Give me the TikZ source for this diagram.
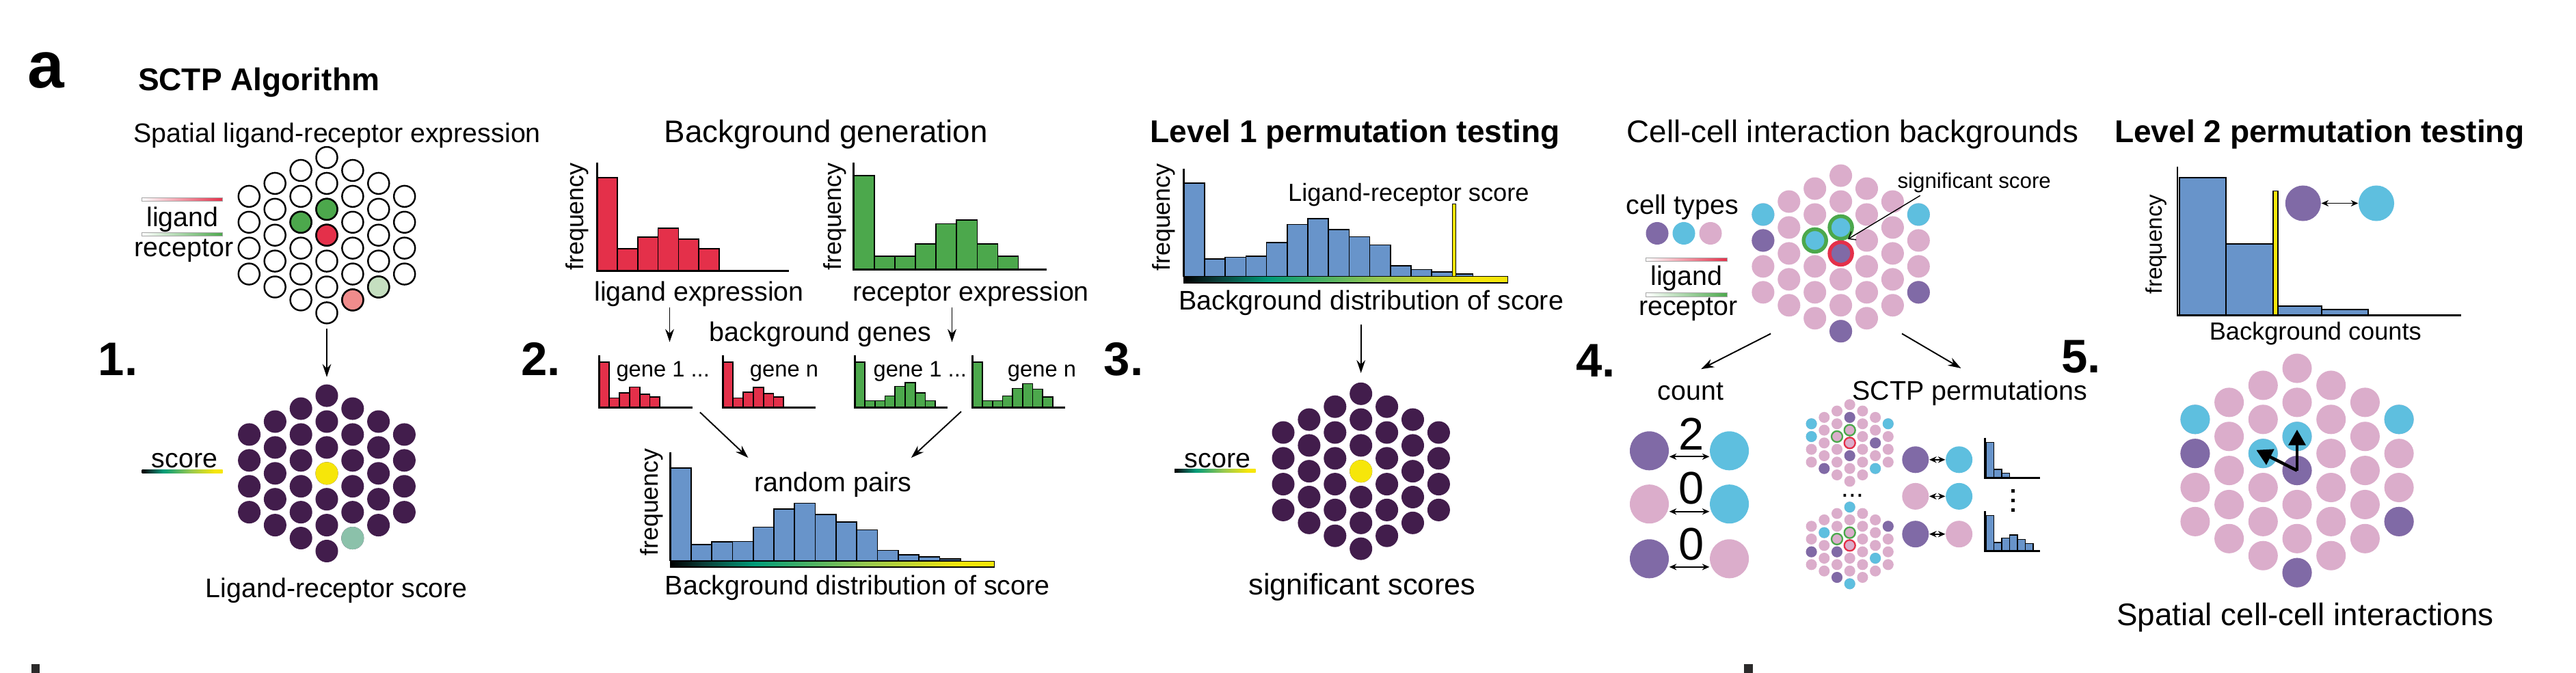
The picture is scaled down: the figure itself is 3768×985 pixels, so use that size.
\documentclass[tikz,border=0pt]{standalone}
\usepackage{fontspec}
\setmainfont{Liberation Sans}
\usetikzlibrary{calc,positioning,arrows.meta}

\definecolor{LigRed}{RGB}{228,48,74}
\definecolor{RecGreen}{RGB}{76,168,76}
\definecolor{LigPale}{RGB}{240,140,140}
\definecolor{RecPale}{RGB}{197,223,192}
\definecolor{ScoreDark}{RGB}{66,29,76}
\definecolor{ScoreDeep}{RGB}{10,60,55}
\definecolor{ScoreTeal}{RGB}{0,155,120}
\definecolor{ScoreLime}{RGB}{150,200,80}
\definecolor{ScoreYellow}{RGB}{246,230,10}
\definecolor{ScoreMint}{RGB}{139,193,170}
\definecolor{HistBlue}{RGB}{104,148,202}
\definecolor{TypePurple}{RGB}{128,106,166}
\definecolor{TypeCyan}{RGB}{94,191,223}
\definecolor{TypePink}{RGB}{219,173,203}
\definecolor{MarkGray}{RGB}{43,42,42}
\pgfdeclarehorizontalshading{ScoreShade}{100bp}{color(0bp)=(black); color(25bp)=(black); color(30bp)=(ScoreDeep); color(38bp)=(ScoreTeal); color(55bp)=(ScoreLime); color(70bp)=(ScoreYellow); color(100bp)=(ScoreYellow)}

\begin{document}
\begin{tikzpicture}[
        x=0.01cm, y=-0.01cm,
        PanelTag/.style={font=\fontsize{27.4}{30}\selectfont\bfseries, inner sep=0, anchor=base},
        Head/.style={font=\fontsize{13.1}{15}\selectfont\bfseries, inner sep=0, anchor=base},
        Sub/.style={font=\fontsize{13}{15}\selectfont, inner sep=0, anchor=base},
        Lbl/.style={font=\fontsize{11.2}{13}\selectfont, inner sep=0, anchor=base},
        SmallLbl/.style={font=\fontsize{10.3}{12}\selectfont, inner sep=0, anchor=base},
        SigLbl/.style={font=\fontsize{12.3}{14}\selectfont, inner sep=0, anchor=base},
        TinyLbl/.style={font=\fontsize{8.9}{10}\selectfont, inner sep=0, anchor=base},
        GeneLbl/.style={font=\fontsize{9.3}{11}\selectfont, inner sep=0, anchor=base},
        FreqLbl/.style={font=\fontsize{10.2}{12}\selectfont, inner sep=0, rotate=90},
        StepNum/.style={font=\fontsize{19.6}{22}\selectfont\bfseries, inner sep=0, anchor=base west},
        CountNum/.style={font=\fontsize{19}{22}\selectfont, inner sep=0, anchor=base},
        CellOpen/.style={circle, draw=black, line width=0.7pt, fill=white, inner sep=0, minimum size=0.31cm},
        CellDot/.style={circle, inner sep=0, minimum size=0.33cm},
        TinyDot/.style={circle, inner sep=0, minimum size=0.16cm},
        BigDot/.style={circle, inner sep=0, minimum size=0.43cm},
        Bar/.style={draw=black, line width=0.5pt},
        Axis/.style={line width=0.8pt},
        LegendBar/.style={left color=white, draw=black!35, line width=0.25pt},
        FlowArrow/.style={line width=0.55pt, -{Stealth[length=5.4pt,width=3.6pt]}},
        PairArrow/.style={line width=0.5pt, {Stealth[length=3pt,width=2.6pt]}-{Stealth[length=3pt,width=2.6pt]}},
        PtrArrow/.style={line width=0.4pt, -{Straight Barb[length=2.5pt,width=4pt]}},
        BoldArrow/.style={line width=1.3pt, -{Triangle[length=6.5pt,width=7pt]}}
    ]
    \fill[white] (0,0) rectangle (3768,985);
    \useasboundingbox (0,0) rectangle (3768,985);

    %titles
    \node[PanelTag] (PanelA) at (67.5,128.8) {a};
    \node[Head] (AlgTitle) at (378.6,133) {SCTP Algorithm};
    \node[Lbl] (SpatialTitle) at (493.2,208.5) {Spatial ligand-receptor expression};
    \node[Sub] (BgTitle) at (1208.2,208.4) {Background generation};
    \node[Head] (Lvl1Title) at (1982.2,208.4) {Level 1 permutation testing};
    \node[Sub] (CciTitle) at (2710,208.4) {Cell-cell interaction backgrounds};
    \node[Head] (Lvl2Title) at (3392.7,208.4) {Level 2 permutation testing};

    %steps
    \node[StepNum] (Step1) at (143,549.3) {1.};
    \node[StepNum] (Step2) at (761.5,549.6) {2.};
    \node[StepNum] (Step3) at (1614,549) {3.};
    \node[StepNum] (Step4) at (2304.6,551.5) {4.};
    \node[StepNum] (Step5) at (3014.7,545.8) {5.};

    %1. spatial expression
    \shadedraw[LegendBar,right color=LigRed] (207.6,289.5) rectangle (325.7,294.5);
    \node[Lbl] (LigLeg1) at (267,331.7) {ligand};
    \shadedraw[LegendBar,right color=RecGreen] (207.6,340.5) rectangle (325.7,345.5);
    \node[Lbl] (RecLeg1) at (269,375.6) {receptor};
    \foreach \c in {1,...,7}{
        \pgfmathtruncatemacro{\nrow}{7-abs(\c-4)}
        \foreach \j in {1,...,\nrow}
            \node[CellOpen] (T-\c-\j) at ({478+(\c-4)*37.9},{344.2+(\j-(\nrow+1)/2)*37.9}) {};
    }
    \foreach \c/\j/\col in {3/3/RecGreen,4/3/RecGreen,4/4/LigRed,5/6/LigPale,6/5/RecPale}
        \node[CellOpen,fill=\col] (Tx-\c-\j) at (T-\c-\j) {};

    %1. score
    \node[Lbl] (ScoreLeg1) at (270,684.7) {score};
    \shade[shading=ScoreShade] (207.6,687.5) rectangle (325.7,692.5);
    \foreach \c in {1,...,7}{
        \pgfmathtruncatemacro{\nrow}{7-abs(\c-4)}
        \foreach \j in {1,...,\nrow}
            \node[CellDot,fill=ScoreDark] (B-\c-\j) at ({478+(\c-4)*37.8},{692.8+(\j-(\nrow+1)/2)*37.9}) {};
    }
    \foreach \c/\j/\col in {4/4/ScoreYellow,5/6/ScoreMint}
        \node[CellDot,fill=\col] (Bx-\c-\j) at (B-\c-\j) {};
    \node[Lbl] (LrScore1) at (492.4,874) {Ligand-receptor score};

    %2. background generation
    \foreach \h [count=\i from 0] in {136,32.5,49.4,62,46,32.5}
        \draw[Bar,fill=LigRed] ({873.2+\i*29.8},396.3) rectangle ++(29.8,-\h);
    \draw[Axis] (873.2,238.3) -- (873.2,396.3) -- (1154,396.3);
    \node[FreqLbl] (FreqLig) at (844.5,317) {frequency};
    \node[Lbl] (LigExpr) at (1022.6,440.3) {ligand expression};

    \foreach \h [count=\i from 0] in {137.7,19.8,19.8,37.8,67.2,72.8,37.8,19.8}
        \draw[Bar,fill=RecGreen] ({1248.8+\i*30.1},394.6) rectangle ++(30.1,-\h);
    \draw[Axis] (1248.8,238) -- (1248.8,394.6) -- (1530.7,394.6);
    \node[FreqLbl] (FreqRec) at (1221,317) {frequency};
    \node[Lbl] (RecExpr) at (1420,440.3) {receptor expression};

    \node[Lbl] (BgGenes) at (1200,499) {background genes};

    %gene histograms
    \foreach \h [count=\i from 0] in {66.6,14,21.4,30,19.8,15.8}
        \draw[Bar,fill=LigRed] ({876.5+\i*14.8},596.6) rectangle ++(14.8,-\h);
    \draw[Axis] (876.5,520.4) -- (876.5,596.6) -- (1013,596.6);
    \node[GeneLbl] (LigGene1) at (969.7,551.5) {gene 1 ...};
    \foreach \h [count=\i from 0] in {66.6,14,22.6,29.3,20.9,15.8}
        \draw[Bar,fill=LigRed] ({1057.5+\i*14.8},596.6) rectangle ++(14.8,-\h);
    \draw[Axis] (1057.5,520.4) -- (1057.5,596.6) -- (1193,596.6);
    \node[GeneLbl] (LigGeneN) at (1147,551.5) {gene n};
    \foreach \h [count=\i from 0] in {66.6,10.2,10.2,17,31,36.7,21.4,10.2}
        \draw[Bar,fill=RecGreen] ({1250.5+\i*14.7},596.6) rectangle ++(14.7,-\h);
    \draw[Axis] (1250.5,520.4) -- (1250.5,596.6) -- (1386,596.6);
    \node[GeneLbl] (RecGene1) at (1345.8,551.5) {gene 1 ...};
    \foreach \h [count=\i from 0] in {66.6,10.2,10.2,17,28.2,35,27,15.8}
        \draw[Bar,fill=RecGreen] ({1422.3+\i*14.7},596.6) rectangle ++(14.7,-\h);
    \draw[Axis] (1422.3,520.4) -- (1422.3,596.6) -- (1557.8,596.6);
    \node[GeneLbl] (RecGeneN) at (1524,551.5) {gene n};

    %random pairs
    \foreach \h [count=\i from 0] in {136,24.3,28.2,28.8,49.7,76.2,84.7,68.3,57,45.7,15.8,9,6.2,3.4}
        \draw[Bar,fill=HistBlue] ({980.5+\i*30.3},821.2) rectangle ++(30.3,-\h);
    \draw[Axis] (980.5,661.5) -- (980.5,821.2);
    \shadedraw[shading=ScoreShade,draw=black,line width=0.3pt] (980.5,821.2) rectangle (1454.8,830);
    \node[FreqLbl] (FreqBg) at (952.9,735) {frequency};
    \node[Lbl] (RandPairs) at (1218.7,719.6) {random pairs};
    \node[Lbl] (BgDist2) at (1254.2,870.3) {Background distribution of score};

    %3. level 1 testing
    \foreach \h [count=\i from 0] in {136.6,25.4,28.2,29.9,49.7,76.2,84.7,68.8,58.1,46.3,15.8,10.2,6.8,4}
        \draw[Bar,fill=HistBlue] ({1731.8+\i*30.2},404.7) rectangle ++(30.2,-\h);
    \draw[Axis] (1731.8,246.7) -- (1731.8,404.7);
    \shadedraw[shading=ScoreShade,draw=black,line width=0.3pt] (1731.8,404.7) rectangle (2205.9,414);
    \draw[Bar,fill=ScoreYellow,line width=0.4pt] (2124.6,404.7) rectangle (2129.4,298.6);
    \node[FreqLbl] (FreqL1) at (1702.5,318) {frequency};
    \node[SmallLbl] (LrScore3) at (2060.4,294.7) {Ligand-receptor score};
    \node[Lbl] (BgDist3) at (2005.7,453.8) {Background distribution of score};

    \node[Lbl] (ScoreLeg3) at (1781,684) {score};
    \shade[shading=ScoreShade] (1718,686) rectangle (1836.7,691);
    \foreach \c in {1,...,7}{
        \pgfmathtruncatemacro{\nrow}{7-abs(\c-4)}
        \foreach \j in {1,...,\nrow}
            \node[CellDot,fill=ScoreDark] (S-\c-\j) at ({1990.7+(\c-4)*37.9},{689.7+(\j-(\nrow+1)/2)*37.8}) {};
    }
    \node[CellDot,fill=ScoreYellow] (Sx-4-4) at (S-4-4) {};
    \node[SigLbl] (SigScores) at (1992.3,870.3) {significant scores};

    %4. cell-cell backgrounds
    \node[Lbl] (CellTypes) at (2460.7,313.3) {cell types};
    \node[CellDot,fill=TypePurple] (TypeA) at (2424,341.5) {};
    \node[CellDot,fill=TypeCyan] (TypeB) at (2463,341.5) {};
    \node[CellDot,fill=TypePink] (TypeC) at (2502,341.5) {};
    \shadedraw[LegendBar,right color=LigRed] (2407,377.2) rectangle (2526.4,382.8);
    \node[Lbl] (LigLeg4) at (2467,417.7) {ligand};
    \shadedraw[LegendBar,right color=RecGreen] (2407,428.5) rectangle (2526.4,434.1);
    \node[Lbl] (RecLeg4) at (2469.4,461.2) {receptor};

    \foreach \c in {1,...,7}{
        \pgfmathtruncatemacro{\nrow}{7-abs(\c-4)}
        \foreach \j in {1,...,\nrow}
            \node[CellDot,fill=TypePink] (G-\c-\j) at ({2692.6+(\c-4)*37.9},{370.9+(\j-(\nrow+1)/2)*37.95}) {};
    }
    \foreach \c/\j/\col in {1/1/TypeCyan,1/2/TypePurple,4/7/TypePurple,7/1/TypeCyan,7/4/TypePurple}
        \node[CellDot,fill=\col] (Gx-\c-\j) at (G-\c-\j) {};
    \foreach \c/\j/\col/\ring in {3/3/TypeCyan/RecGreen,4/3/TypeCyan/RecGreen,4/4/TypePurple/LigRed}
        \node[CellDot,fill=\col,draw=\ring,line width=1.55pt] (Gr-\c-\j) at (G-\c-\j) {};
    \node[TinyLbl] (SigTxt) at (2887.7,275) {significant score};
    \coordinate (SigFoot) at (2808.7,286.2);
    \coordinate (SigTip) at (2703,350);
    \draw[PtrArrow] (SigFoot) -- (SigTip);

    %connections
    \draw[FlowArrow,shorten <=0.06cm,shorten >=0.1cm] (T-4-7) -- (B-4-1);
    \coordinate (LigDn1) at (979.5,450); \coordinate (LigDn2) at (979.5,500.7);
    \coordinate (RecDn1) at (1392.5,450); \coordinate (RecDn2) at (1392.5,500.7);
    \draw[FlowArrow] (LigDn1) -- (LigDn2);
    \draw[FlowArrow] (RecDn1) -- (RecDn2);
    \coordinate (LigPair1) at (1023.9,603.4); \coordinate (LigPair2) at (1094.4,670);
    \coordinate (RecPair1) at (1406,602.3); \coordinate (RecPair2) at (1332.8,670);
    \draw[FlowArrow] (LigPair1) -- (LigPair2);
    \draw[FlowArrow] (RecPair1) -- (RecPair2);
    \coordinate (L1Start) at (1990.7,475);
    \draw[FlowArrow,shorten >=0.13cm] (L1Start) -- (S-4-1);
    \coordinate (CciL) at (2590.2,488.3); \coordinate (CountIn) at (2488.2,540.2);
    \coordinate (CciR) at (2782,488.3); \coordinate (PermIn) at (2868.4,539);
    \draw[FlowArrow] (CciL) -- (CountIn);
    \draw[FlowArrow] (CciR) -- (PermIn);

    %count
    \node[Lbl] (CountTxt) at (2473,585.3) {count};
    \node[CellDot,fill=TypePurple,minimum size=0.57cm] (CntL1) at (2412.5,659.8) {};
    \node[CellDot,fill=TypeCyan,minimum size=0.57cm] (CntR1) at (2529.6,659.8) {};
    \node[CellDot,fill=TypePink,minimum size=0.57cm] (CntL2) at (2412.5,737.7) {};
    \node[CellDot,fill=TypeCyan,minimum size=0.57cm] (CntR2) at (2529.6,737.7) {};
    \node[CellDot,fill=TypePurple,minimum size=0.57cm] (CntL3) at (2412.5,817.8) {};
    \node[CellDot,fill=TypePink,minimum size=0.57cm] (CntR3) at (2529.6,817.8) {};
    \node[CountNum] (Cnt1) at (2474,658.7) {2};
    \node[CountNum] (Cnt2) at (2474,737.7) {0};
    \node[CountNum] (Cnt3) at (2474,819.5) {0};
    \draw[PairArrow] ([yshift=-0.085cm]CntL1.east) -- ([yshift=-0.085cm]CntR1.west);
    \draw[PairArrow] ([yshift=-0.11cm]CntL2.east) -- ([yshift=-0.11cm]CntR2.west);
    \draw[PairArrow] ([yshift=-0.12cm]CntL3.east) -- ([yshift=-0.12cm]CntR3.west);

    %SCTP permutations
    \node[Lbl] (PermTxt) at (2881.3,585.3) {SCTP permutations};
    \foreach \c in {1,...,7}{
        \pgfmathtruncatemacro{\nrow}{7-abs(\c-4)}
        \foreach \j in {1,...,\nrow}
            \node[TinyDot,fill=TypePink] (U-\c-\j) at ({2705.7+(\c-4)*18.7},{648.3+(\j-(\nrow+1)/2)*18.7}) {};
    }
    \foreach \c/\j/\col in {1/1/TypeCyan,1/2/TypeCyan,2/5/TypePurple,4/2/TypePurple,4/5/TypePurple,6/3/TypePurple,6/5/TypeCyan,7/1/TypeCyan}
        \node[TinyDot,fill=\col] (Ux-\c-\j) at (U-\c-\j) {};
    \foreach \c/\j/\ring in {3/3/RecGreen,4/3/RecGreen,4/4/LigRed}
        \node[TinyDot,fill=TypePink,draw=\ring,line width=0.65pt] (Ur-\c-\j) at (U-\c-\j) {};
    \node[font=\fontsize{11}{13}\selectfont, inner sep=0, anchor=base] (PermDots) at (2710,727) {...};
    \foreach \c in {1,...,7}{
        \pgfmathtruncatemacro{\nrow}{7-abs(\c-4)}
        \foreach \j in {1,...,\nrow}
            \node[TinyDot,fill=TypePink] (V-\c-\j) at ({2705.7+(\c-4)*18.7},{798.3+(\j-(\nrow+1)/2)*18.7}) {};
    }
    \foreach \c/\j/\col in {1/3/TypePurple,2/2/TypeCyan,3/4/TypePurple,3/6/TypePurple,4/1/TypeCyan,4/7/TypeCyan,6/4/TypeCyan,7/1/TypePurple}
        \node[TinyDot,fill=\col] (Vx-\c-\j) at (V-\c-\j) {};
    \foreach \c/\j/\ring in {3/3/RecGreen,4/3/RecGreen,4/4/LigRed}
        \node[TinyDot,fill=TypePink,draw=\ring,line width=0.65pt] (Vr-\c-\j) at (V-\c-\j) {};

    \node[CellDot,fill=TypePurple,minimum size=0.39cm] (PermL1) at (2801.8,672.8) {};
    \node[CellDot,fill=TypeCyan,minimum size=0.39cm] (PermR1) at (2865.6,672.8) {};
    \node[CellDot,fill=TypePink,minimum size=0.39cm] (PermL2) at (2801.8,726.4) {};
    \node[CellDot,fill=TypeCyan,minimum size=0.39cm] (PermR2) at (2865.6,726.4) {};
    \node[CellDot,fill=TypePurple,minimum size=0.39cm] (PermL3) at (2801.8,781.7) {};
    \node[CellDot,fill=TypePink,minimum size=0.39cm] (PermR3) at (2865.6,781.7) {};
    \draw[PairArrow] (PermL1.east) -- (PermR1.west);
    \draw[PairArrow] (PermL2.east) -- (PermR2.west);
    \draw[PairArrow] (PermL3.east) -- (PermR3.west);

    \foreach \h [count=\i from 0] in {52,12.4,6.8}
        \draw[Bar,fill=HistBlue,line width=0.4pt] ({2905+\i*11.5},699.3) rectangle ++(11.5,-\h);
    \draw[Axis] (2903.8,640.6) -- (2903.8,699.3) -- (2984,699.3);
    \foreach \y in {716,730,744}
        \fill (2942,\y) rectangle ++(4.5,4.5);
    \foreach \h [count=\i from 0] in {52,12.4,19.2,23.7,16.9,11.3}
        \draw[Bar,fill=HistBlue,line width=0.4pt] ({2905+\i*11.5},806.5) rectangle ++(11.5,-\h);
    \draw[Axis] (2903.8,747.8) -- (2903.8,806.5) -- (2984,806.5);

    %5. level 2 testing
    \foreach \xa/\w/\h in {3187.6/68.5/201.5,3256.1/68.6/104.4,3324.7/71/13,3395.7/68.6/8.5}
        \draw[Bar,fill=HistBlue] (\xa,461.2) rectangle ++(\w,-\h);
    \draw[Bar,fill=ScoreYellow] (3324.7,461.2) rectangle (3332,279.5);
    \draw[Axis] (3185,243.9) -- (3185,461.2) -- (3600,461.2);
    \node[FreqLbl,font=\fontsize{9.4}{11}\selectfont] (FreqL2) at (3153.5,357.5) {frequency};
    \node[CellDot,fill=TypePurple,minimum size=0.52cm] (PairL) at (3368.8,297.5) {};
    \node[CellDot,fill=TypeCyan,minimum size=0.52cm] (PairR) at (3476,297.5) {};
    \draw[PairArrow] (PairL.east) -- (PairR.west);
    \node[SmallLbl] (BgCounts) at (3386.8,497.9) {Background counts};

    \foreach \c in {1,...,7}{
        \pgfmathtruncatemacro{\nrow}{7-abs(\c-4)}
        \foreach \j in {1,...,\nrow}
            \node[BigDot,fill=TypePink] (W-\c-\j) at ({3360+(\c-4)*49.7},{688.6+(\j-(\nrow+1)/2)*49.85}) {};
    }
    \foreach \c/\j/\col in {1/1/TypeCyan,1/2/TypePurple,3/3/TypeCyan,4/3/TypeCyan,4/4/TypePurple,4/7/TypePurple,7/1/TypeCyan,7/4/TypePurple}
        \node[BigDot,fill=\col] (Wx-\c-\j) at (W-\c-\j) {};
    \draw[BoldArrow] (W-4-4.center) -- ($(W-4-4.center)!1.2!(W-4-3.center)$);
    \draw[BoldArrow] (W-4-4.center) -- ($(W-4-4.center)!1.2!(W-3-3.center)$);
    \node[Sub] (SpatialCci) at (3372,915.5) {Spatial cell-cell interactions};

    %next panels
    \fill[MarkGray] (45.7,971.7) rectangle (58.3,985);
    \fill[MarkGray] (2551,971.7) rectangle (2564,985);
\end{tikzpicture}
\end{document}
